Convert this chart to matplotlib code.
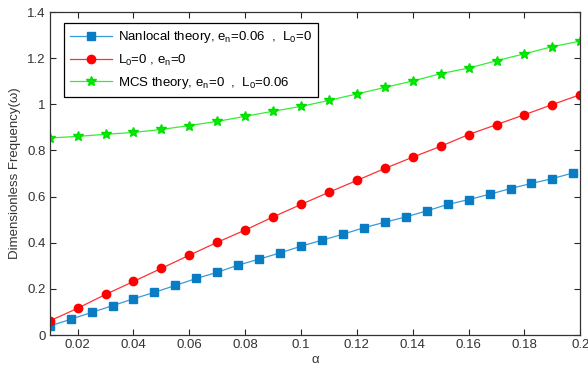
import matplotlib.pyplot as plt
from matplotlib.ticker import FuncFormatter

# nonlocal (blue) sampled on a finer grid than the other two curves
ALPHA_NL = [0.01 + 0.0075 * i for i in range(26)]
W_NONLOCAL = [0.039, 0.068, 0.098, 0.127, 0.157, 0.185, 0.215, 0.245, 0.272,
              0.303, 0.329, 0.356, 0.385, 0.411, 0.437, 0.465, 0.489, 0.512,
              0.538, 0.566, 0.587, 0.610, 0.635, 0.657, 0.678, 0.703]

ALPHA = [0.01 * k for k in range(1, 21)]
W_CLASSIC = [0.061, 0.116, 0.176, 0.232, 0.289, 0.346, 0.402, 0.455, 0.512, 0.566,
             0.619, 0.670, 0.722, 0.771, 0.818, 0.869, 0.912, 0.955, 0.999, 1.042]
W_MCS = [0.854, 0.861, 0.870, 0.878, 0.891, 0.908, 0.926, 0.948, 0.970, 0.991,
         1.017, 1.045, 1.073, 1.101, 1.133, 1.157, 1.189, 1.219, 1.250, 1.274]

XTICKS = [0.02, 0.04, 0.06, 0.08, 0.1, 0.12, 0.14, 0.16, 0.18, 0.2]
YTICKS = [0, 0.2, 0.4, 0.6, 0.8, 1.0, 1.2, 1.4]

plt.rcParams.update({
    "font.family": ["Liberation Sans", "DejaVu Sans"],
    "font.size": 9.5,
    "mathtext.default": "regular",
})

fig = plt.figure(figsize=(5.88, 3.76), dpi=100)
ax = fig.add_axes([0.0845, 0.109, 0.9025, 0.859])

ax.plot(ALPHA_NL, W_NONLOCAL, "-", color="#3a9ad9", lw=0.9, marker="s",
        ms=5.2, mfc="#0a7cc4", mec="#0a7cc4",
        label=r"Nanlocal theory, e$_n$=0.06  ,  L$_0$=0")
ax.plot(ALPHA, W_CLASSIC, "-", color="#ff3030", lw=0.9, marker="o",
        ms=6, mfc="#ff0000", mec="#ff0000",
        label=r"L$_0$=0 , e$_n$=0")
ax.plot(ALPHA, W_MCS, "-", color="#33ee33", lw=0.9, marker="*",
        ms=7, mfc="#00ee00", mec="#00dd00",
        label=r"MCS theory, e$_n$=0  ,  L$_0$=0.06")

ax.set_xlim(0.01, 0.2)
ax.set_ylim(0, 1.4)
ax.set_xticks(XTICKS)
ax.set_yticks(YTICKS)
fmt = FuncFormatter(lambda v, p: f"{v:g}")
ax.xaxis.set_major_formatter(fmt)
ax.yaxis.set_major_formatter(fmt)
ax.tick_params(direction="in", top=True, right=True, length=4, width=0.8,
               colors="0.15", labelcolor="0.2", pad=3)
for s in ax.spines.values():
    s.set_color("0.2")
    s.set_linewidth(0.9)

ax.set_xlabel("α", color="0.2", labelpad=2)
ax.set_ylabel("Dimensionless Frequency(ω)", color="0.2", labelpad=4)

leg = ax.legend(loc="upper left", bbox_to_anchor=(0.015, 0.985), fancybox=False,
                edgecolor="black", framealpha=1, handlelength=3.2,
                borderpad=0.45, labelspacing=0.55, handletextpad=0.4,
                fontsize=9.5)
leg.get_frame().set_linewidth(0.9)

fig.savefig("out.png", dpi=100)
